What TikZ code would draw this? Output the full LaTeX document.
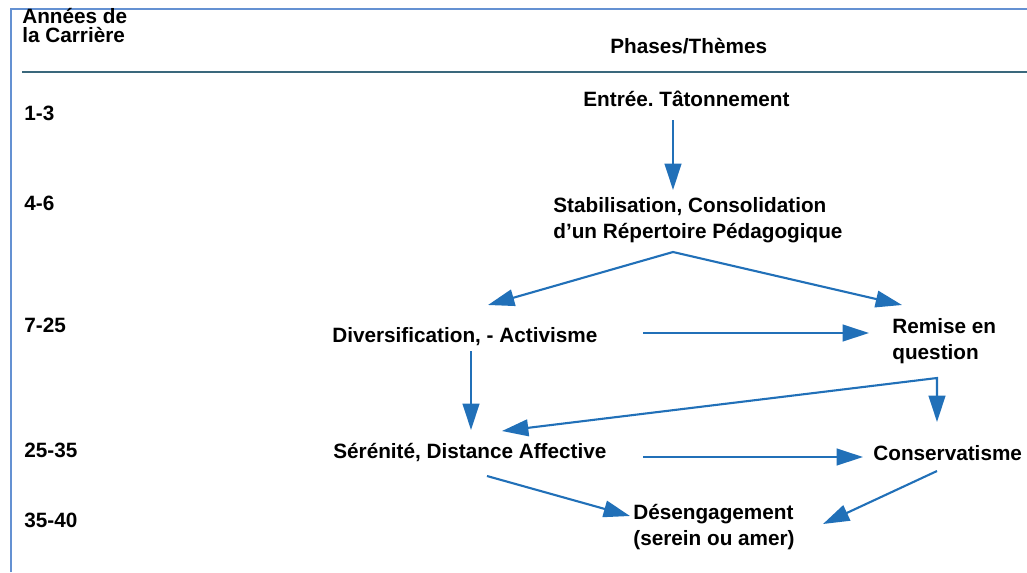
\documentclass[tikz,border=0pt]{standalone}
\usepackage{fontspec}
\setmainfont{Liberation Sans}
\usepackage{xcolor}
\usetikzlibrary{calc, arrows.meta}

\definecolor{flowblue}{RGB}{33,112,184}
\definecolor{frameblue}{RGB}{100,145,210}
\definecolor{rulegrey}{RGB}{58,104,124}

\tikzset{
  phase/.style={anchor=base west, inner sep=0pt, align=left, font=\bfseries\fontsize{11.8}{14.6}\selectfont},
  flow/.style={draw=flowblue, line width=1.2pt, -{Triangle[length=15pt,width=9.5pt]}},
  forked/.style={draw=flowblue, line width=1.2pt, {Triangle[length=15pt,width=9.5pt]}-{Triangle[length=15pt,width=9.5pt]}}
}

\begin{document}
\frenchspacing
\begin{tikzpicture}[x=0.02cm, y=-0.02cm]
    \useasboundingbox (0,0) rectangle (1027,572);
    % frame and header rule
    \draw[frameblue, line width=1.1pt] (11,572) -- (11,9) -- (1027,9);
    \draw[rulegrey, line width=1.6pt] (22,72) -- (1027,72);
    \node[phase, font=\bfseries\fontsize{11.8}{10.8}\selectfont] (annees) at (22,42) {Années de\\la Carrière};
    \node[phase] (themes) at (610,53) {Phases/Thèmes};
    % years
    \node[phase] (y13) at (24,120) {1-3};
    \node[phase] (y46) at (24,210) {4-6};
    \node[phase] (y725) at (24,332) {7-25};
    \node[phase] (y2535) at (24,457) {25-35};
    \node[phase] (y3540) at (24,527) {35-40};
    % phases (multi-line nodes sit on their last line)
    \node[phase] (entree) at (583,106) {Entrée. Tâtonnement};
    \node[phase] (stab) at (553,238) {Stabilisation, Consolidation\\d’un Répertoire Pédagogique};
    \node[phase] (div) at (332,342) {Diversification, - Activisme};
    \node[phase] (remise) at (892,359) {Remise en\\question};
    \node[phase] (ser) at (333,458) {Sérénité, Distance Affective};
    \node[phase] (cons) at (873,460) {Conservatisme};
    \node[phase] (des) at (633,545) {Désengagement\\(serein ou amer)};
    \coordinate (apex) at ($(stab.base west)+(120,14)$);
    \coordinate (corner) at ($(remise.base west)+(45,19)$);
    % arrows
    \draw[flow] ($(entree.base west)+(90,14)$) -- ($(stab.base west)+(120,-48)$);
    \draw[forked] ($(div.base west)+(156,-37)$) -- (apex) -- ($(remise.base west)+(10,-54)$);
    \draw[flow] ($(div.base west)+(311,-9)$) -- ($(remise.base west)+(-23,-26)$);
    \draw[flow] ($(div.base west)+(139,9)$) -- ($(ser.base west)+(138,-28)$);
    \draw[forked] ($(ser.base west)+(169,-27)$) -- (corner) -- ($(cons.base west)+(64,-38)$);
    \draw[flow] ($(ser.base west)+(310,-1)$) -- ($(cons.base west)+(-10,-3)$);
    \draw[flow] ($(ser.base west)+(154,18)$) -- ($(des.base west)+(-3,-29)$);
    \draw[flow] ($(cons.base west)+(64,11)$) -- ($(des.base west)+(190,-21)$);
\end{tikzpicture}
\end{document}
